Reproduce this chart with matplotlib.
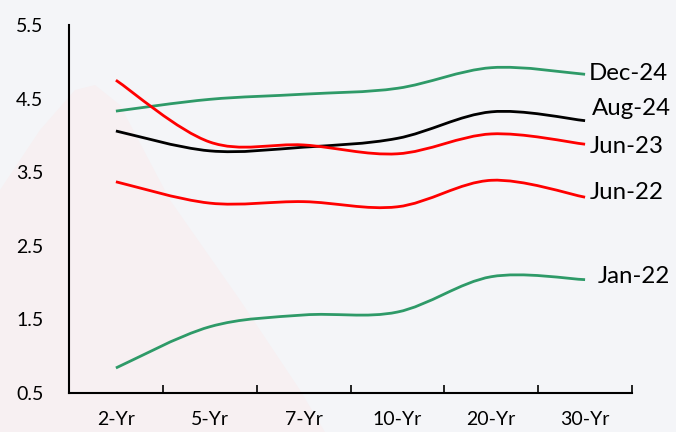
import matplotlib
matplotlib.use("Agg")
import matplotlib.pyplot as plt
from matplotlib.path import Path
from matplotlib.patches import PathPatch, Polygon
import numpy as np

categories = ["2-Yr", "5-Yr", "7-Yr", "10-Yr", "20-Yr", "30-Yr"]
dec24 = [4.33, 4.49, 4.56, 4.64, 4.92, 4.83]
aug24 = [4.06, 3.79, 3.84, 3.96, 4.32, 4.20]
jun23 = [4.75, 3.91, 3.87, 3.75, 4.02, 3.88]
jun22 = [3.37, 3.08, 3.10, 3.03, 3.39, 3.16]
jan22 = [0.84, 1.40, 1.56, 1.60, 2.08, 2.04]
series_names = ["Dec-24", "Aug-24", "Jun-23", "Jun-22", "Jan-22"]
yticks = [0.5, 1.5, 2.5, 3.5, 4.5, 5.5]

plt.rcParams['font.family'] = ['Lato', 'DejaVu Sans']

W, H = 676, 432
fig = plt.figure(figsize=(W / 100, H / 100), dpi=100)
bg = '#F4F5F8'
fig.patch.set_facecolor(bg)

# faint watermark shape in background
wm = [(0, 432), (0, 190), (40, 130), (75, 90), (95, 85), (120, 105), (170, 200),
      (240, 300), (300, 390), (325, 432)]
fig.patches.append(Polygon([(x / W, 1 - y / H) for x, y in wm], closed=True,
                           transform=fig.transFigure, facecolor='#F7F0F2',
                           edgecolor='none', zorder=-5))

ax = fig.add_axes([69 / W, 1 - 393 / H, (632 - 69) / W, (393 - 25) / H])
ax.set_zorder(1)
ax.set_facecolor('none')

def smooth_path(xs, ys):
    pts = np.column_stack([xs, ys]).astype(float)
    n = len(pts)
    verts = [pts[0]]
    codes = [Path.MOVETO]
    for i in range(n - 1):
        p0 = pts[i - 1] if i > 0 else pts[i]
        p1 = pts[i]
        p2 = pts[i + 1]
        p3 = pts[i + 2] if i + 2 < n else pts[i + 1]
        c1 = p1 + (p2 - p0) / 6.0
        c2 = p2 - (p3 - p1) / 6.0
        verts += [c1, c2, p2]
        codes += [Path.CURVE4] * 3
    return Path(verts, codes)

green = '#2E9A68'
red = '#FF0000'
data = [(dec24, green), (aug24, 'black'), (jun23, red), (jun22, red), (jan22, green)]
xs = np.arange(len(categories))
for vals, col in data:
    p = smooth_path(xs, vals)
    ax.add_patch(PathPatch(p, facecolor='none', edgecolor=col, lw=2.0, capstyle='butt'))

# labels
offsets = [(4, 1), (7, 12), (5, -2), (5, 5), (13, 3)]
for name, (vals, col), (dx, dy) in zip(series_names, data, offsets):
    ax.annotate(name, xy=(xs[-1], vals[-1]), xytext=(dx * 0.72, dy * 0.72),
                textcoords='offset points', ha='left', va='center',
                fontsize=17.3, color='black', annotation_clip=False)

ax.set_xlim(-0.5, 5.5)
ax.set_ylim(0.5, 5.5)
ax.set_yticks(yticks)
ax.set_yticklabels([f"{t:.1f}" for t in yticks])
ax.set_xticks(xs)
ax.set_xticklabels(categories)
ax.set_xticks(np.arange(0.5, 6.0, 1.0), minor=True)
ax.tick_params(axis='x', which='major', length=0, pad=13, labelsize=14)
ax.tick_params(axis='x', which='minor', length=6, width=1.2, direction='in', color='black')
ax.tick_params(axis='y', which='major', length=0, pad=38, labelsize=14)
for lab in ax.get_yticklabels():
    lab.set_horizontalalignment('left')
for s in ['top', 'right']:
    ax.spines[s].set_visible(False)
ax.spines['left'].set_linewidth(1.5)
ax.spines['bottom'].set_linewidth(1.5)

fig.savefig("out.png", dpi=100, facecolor=bg)
